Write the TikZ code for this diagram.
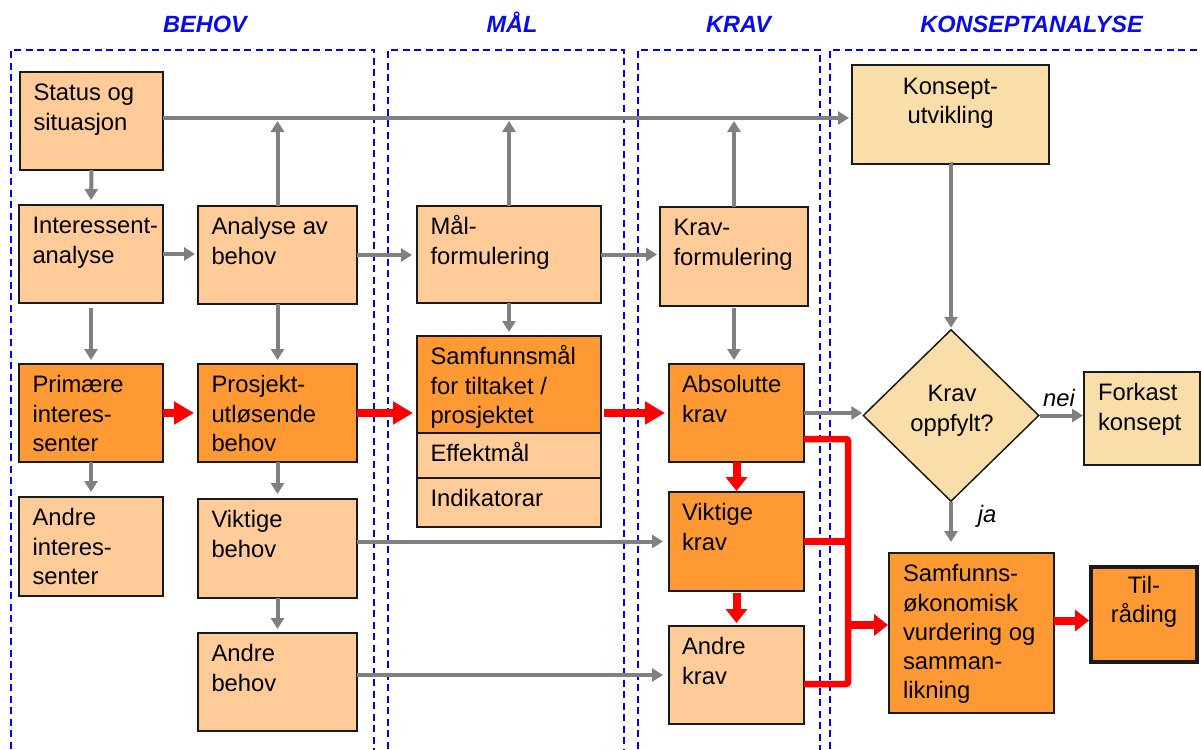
\documentclass[tikz,border=0pt]{standalone}
\usepackage{fontspec}
\setmainfont{Liberation Sans}
\usetikzlibrary{arrows.meta,shapes.geometric,calc}
\definecolor{lightor}{HTML}{FFCC99}
\definecolor{darkor}{HTML}{FF9933}
\definecolor{tanbox}{HTML}{FADEAA}
\definecolor{arrgray}{HTML}{808080}
\definecolor{dashblue}{HTML}{0000FF}
\definecolor{titleblue}{HTML}{0A0AF0}
\definecolor{boxline}{HTML}{1A1A1A}
\newcommand\boxfont{\fontsize{23.8}{29.3}\selectfont}
\newcommand\ml[1]{\begin{tabular}[t]{@{}l@{}}#1\end{tabular}}
\newcommand\mc[1]{\begin{tabular}[t]{@{}c@{}}#1\end{tabular}}
% name, style, x1, y1, x2, y2
\newcommand\bx[6]{\node[#2, minimum width={#5-#3}, minimum height={#6-#4}] (#1) at ({(#3+#5)/2},{(#4+#6)/2}) {};}
\tikzset{
  box/.style={draw=boxline, line width=1.5pt, inner sep=0pt, outer sep=0pt},
  lbox/.style={box, fill=lightor},
  dbox/.style={box, fill=darkor},
  tbox/.style={box, fill=tanbox},
  txt/.style={inner sep=0pt, outer sep=0pt, font=\boxfont, anchor=base west},
  ctxt/.style={inner sep=0pt, outer sep=0pt, font=\boxfont, anchor=base},
  title/.style={inner sep=0pt, font=\fontsize{23.5}{28}\selectfont\bfseries\itshape, text=titleblue, anchor=base},
  lane/.style={draw=dashblue, line width=1.5pt, dash pattern=on 7pt off 4.5pt},
  garrow/.style={draw=arrgray, line width=4pt, -{Triangle[length=11pt,width=13pt]}, shorten >=3pt},
  rarrow/.style={draw=red, line width=8pt, -{Triangle[length=20pt,width=22pt]}, shorten >=4pt},
  rarrows/.style={draw=red, line width=8pt, -{Triangle[length=14pt,width=21pt]}, shorten >=2pt},
  rline/.style={draw=red, line width=6.5pt, rounded corners=2pt}
}
\begin{document}
\begin{tikzpicture}[x=1pt,y=-1pt]
\useasboundingbox (0,0) rectangle (1201,749);
\fill[white] (0,0) rectangle (1201,749);
\clip (0,0) rectangle (1201,749);
% lanes
\draw[lane] (11,760) -- (11,50) -- (374,50) -- (374,760);
\draw[lane] (388,760) -- (388,50) -- (624,50) -- (624,760);
\draw[lane] (638,760) -- (638,50) -- (820,50) -- (820,760);
\draw[lane] (830,760) -- (830,50) -- (1210,50);
\node[title] (tb) at (205,33) {BEHOV};
\node[title] (tm) at (512,33) {MÅL};
\node[title] (tk) at (738.5,33) {KRAV};
\node[title] (tka) at (1031.5,33) {KONSEPTANALYSE};
% boxes
\bx{st}{lbox}{20}{72}{163}{170}
\bx{int}{lbox}{19}{205}{163}{303}
\bx{ab}{lbox}{198}{206}{357}{304}
\bx{mal}{lbox}{417}{206}{601}{303}
\bx{krf}{lbox}{660}{207}{808}{306}
\bx{kon}{tbox}{852}{65}{1049}{164}
\bx{pri}{dbox}{19}{364}{163}{462}
\bx{pro}{dbox}{198}{364}{357}{462}
\bx{ai}{lbox}{19}{497}{163}{596}
\bx{vb}{lbox}{198}{499}{357}{598}
\bx{anb}{lbox}{198}{633}{357}{731}
\bx{samf}{dbox}{417}{336}{601}{433}
\bx{eff}{lbox}{417}{433}{601}{478}
\bx{ind}{lbox}{417}{478}{601}{527}
\bx{abs}{dbox}{669}{364}{804}{462}
\bx{vk}{dbox}{669}{492}{804}{591}
\bx{ak}{lbox}{669}{626}{804}{724}
\bx{fk}{tbox}{1084}{372}{1200}{465}
\bx{soe}{dbox}{889}{553}{1054}{713}
\bx{til}{dbox, line width=4.5pt}{1091}{567}{1197}{662}
\node[diamond, draw=boxline, line width=1.5pt, fill=tanbox, minimum width=176pt, minimum height=172pt, inner sep=0pt] (dia) at (951,415.5) {};
% texts
\node[txt] (stt) at ($(st.north west)+(13.5,28.7)$) {\ml{Status og\\situasjon}};
\node[txt] (intt) at ($(int.north west)+(13.5,28.7)$) {\ml{Interessent-\\analyse}};
\node[txt] (abt) at ($(ab.north west)+(13.5,28.7)$) {\ml{Analyse av\\behov}};
\node[txt] (malt) at ($(mal.north west)+(13.5,28.7)$) {\ml{Mål-\\formulering}};
\node[txt] (krft) at ($(krf.north west)+(13.5,28.7)$) {\ml{Krav-\\formulering}};
\node[ctxt] (kont) at ($(kon.north)+(0,29.5)$) {\mc{Konsept-\\utvikling}};
\node[txt] (prit) at ($(pri.north west)+(13.5,28.7)$) {\ml{Primære\\interes-\\senter}};
\node[txt] (prot) at ($(pro.north west)+(13.5,28.7)$) {\ml{Prosjekt-\\utløsende\\behov}};
\node[txt] (ait) at ($(ai.north west)+(13.5,28.7)$) {\ml{Andre\\interes-\\senter}};
\node[txt] (vbt) at ($(vb.north west)+(13.5,28.7)$) {\ml{Viktige\\behov}};
\node[txt] (anbt) at ($(anb.north west)+(13.5,28.7)$) {\ml{Andre\\behov}};
\node[txt] (samft) at ($(samf.north west)+(13.5,28.7)$) {\ml{Samfunnsmål\\for tiltaket /\\prosjektet}};
\node[txt] (efft) at ($(eff.north west)+(13.5,28.7)$) {Effektmål};
\node[txt] (indt) at ($(ind.north west)+(13.5,28.7)$) {Indikatorar};
\node[txt] (abst) at ($(abs.north west)+(13,28.7)$) {\ml{Absolutte\\krav}};
\node[txt] (vkt) at ($(vk.north west)+(13,28.7)$) {\ml{Viktige\\krav}};
\node[txt] (akt) at ($(ak.north west)+(13,28.7)$) {\ml{Andre\\krav}};
\node[txt] (fkt) at ($(fk.north west)+(14,28.7)$) {\ml{Forkast\\konsept}};
\node[txt] (soet) at ($(soe.north west)+(14,28.7)$) {\ml{Samfunns-\\økonomisk\\vurdering og\\samman-\\likning}};
\node[ctxt] (tilt) at ($(til.north)+(0,26)$) {\mc{Til-\\råding}};
\node[ctxt] (diat) at ($(dia.center)+(1,-13.8)$) {\mc{Krav\\oppfylt?}};
% gray connectors
\coordinate (topline) at (0,118);
\draw[garrow] (st.east|-topline) -- (kon.west|-topline);
\draw[garrow, shorten >=3pt] (ab.north) -- (ab.north|-topline);
\draw[garrow, shorten >=3pt] (mal.north) -- (mal.north|-topline);
\draw[garrow, shorten >=3pt] (krf.north) -- (krf.north|-topline);
\draw[garrow, shorten >=5pt] (st.south) -- (int.north);
\draw[garrow] (int.east) -- (int.east-|ab.west);
\draw[garrow, shorten >=5pt] (ab.east) -- (ab.east-|mal.west);
\draw[garrow] (mal.east) -- (mal.east-|krf.west);
\draw[garrow, shorten <=5pt, shorten >=4pt] (int.south) -- (pri.north);
\draw[garrow, shorten >=4pt] (ab.south) -- (pro.north);
\draw[garrow, shorten >=4pt] (mal.south) -- (samf.north);
\draw[garrow, shorten <=2pt, shorten >=4pt] (krf.south) -- (krf.south|-abs.north);
\draw[garrow, shorten >=5pt] (pri.south) -- (ai.north);
\draw[garrow, shorten >=5pt] (pro.south) -- (vb.north);
\draw[garrow, shorten >=4pt] (vb.south) -- (anb.north);
\draw[garrow, shorten >=6pt] (vk.west-|vb.east) -- (vk.west);
\draw[garrow, shorten >=6pt] (ak.west-|anb.east) -- (ak.west);
\draw[garrow, shorten >=0pt] (abs.east) -- (abs.east-|dia.west);
\draw[garrow, shorten >=1pt] (kon.south) -- (kon.south-|dia.north) -- (dia.north);
\draw[garrow, shorten >=1pt] (dia.east) -- (dia.east-|fk.west);
\draw[garrow, shorten >=11pt] (dia.south) -- (dia.south|-soe.north);
\node[ctxt, font=\boxfont\itshape] (nei) at (1059,406.7) {nei};
\node[ctxt, font=\boxfont\itshape] (ja) at (987,522.7) {ja};
% red connectors
\draw[rarrow] (pri.east) -- (pro.west);
\draw[rarrow] (pro.east) -- (pro.east-|samf.west);
\draw[rarrow, shorten <=3pt] (pro.east-|samf.east) -- (abs.west);
\draw[rarrows, shorten >=1pt] (abs.south) -- (vk.north);
\draw[rarrows, shorten <=2pt, shorten >=3pt] (vk.south) -- (ak.north);
\coordinate (busx) at (848,0);
\coordinate (r1) at ($(abs.east)+(0,26)$);
\coordinate (r3) at ($(ak.east)+(0,9)$);
\draw[rline] (r1) -- (r1-|busx) -- (r3-|busx) -- (r3);
\draw[rline] (vk.east) -- (vk.east-|busx);
\coordinate (r4) at ($(soe.west)+(0,-8)$);
\draw[rarrows, shorten >=1pt] (r4-|busx) -- (r4);
\coordinate (r5) at ($(til.west)+(0,6)$);
\draw[rarrows, shorten >=2pt] (r5-|soe.east) -- (r5);
\end{tikzpicture}
\end{document}
